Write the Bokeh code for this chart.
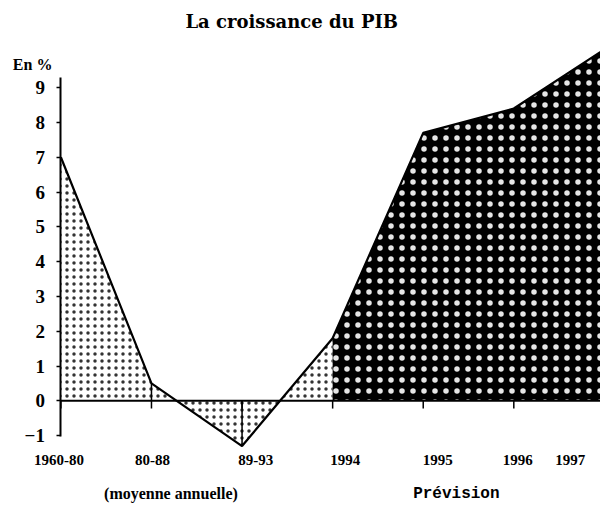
from bokeh.plotting import figure
from bokeh.models import ColumnDataSource, FixedTicker, Range1d
from bokeh.core.properties import value
from bokeh.embed import file_html
from bokeh.resources import INLINE

# ---- data ----
categories = ["1960-80", "80-88", "89-93", "1994", "1995", "1996", "1997"]
growth = [7.0, 0.5, -1.3, 1.8, 7.7, 8.4, 10.1]
y_ticks = [-1, 0, 1, 2, 3, 4, 5, 6, 7, 8, 9]
title_text = "La croissance du PIB"
unit_text = "En %"
note_left = "(moyenne annuelle)"
note_right = "Prévision"

idx = list(range(len(categories)))
split = categories.index("1994")  # stippled part ends, dark part begins

# ---- layout: reference pixel geometry scaled to the figure ----
W, H = 600, 505
SX, SY = W / 616.0, H / 521.0
AXIS_X = 62 * SX          # x of first category (y axis)
ZERO_Y = 413 * SY         # y of value 0
PX_X = 93.0 * SX          # px per category
PX_Y = 35.9 * SY          # px per percent

x_start = -AXIS_X / PX_X
x_end = (W - AXIS_X) / PX_X
y_end = ZERO_Y / PX_Y
y_start = -(H - ZERO_Y) / PX_Y


def xd(ref_px):
    return (ref_px * SX - AXIS_X) / PX_X


def yd(ref_py):
    return (ZERO_Y - ref_py * SY) / PX_Y


p = figure(width=W, height=H, x_range=Range1d(x_start, x_end), y_range=Range1d(y_start, y_end),
           x_axis_location=None, y_axis_location="left",
           toolbar_location=None, output_backend="svg",
           min_border=0, min_border_left=0, min_border_right=0, min_border_top=0,
           min_border_bottom=0, outline_line_color=None,
           background_fill_color="white", border_fill_color="white")
p.grid.visible = False

# stippled area (averages and 1994)
p.varea(x=idx[:split + 1], y1=[0] * (split + 1), y2=growth[:split + 1],
        fill_color="white", hatch_pattern=".", hatch_color="black",
        hatch_scale=7, hatch_weight=1.3, hatch_alpha=0.8)
# dark area (forecast)
n2 = len(idx) - split
p.varea(x=idx[split:], y1=[0] * n2, y2=growth[split:],
        fill_color="black", hatch_pattern=".", hatch_color="white",
        hatch_scale=11, hatch_weight=1.1, hatch_alpha=0.9)

# zero line, drop lines in the stippled part, small ticks under the zero line
p.line(x=[idx[0], idx[-1]], y=[0, 0], line_color="black", line_width=2)
p.segment(x0=idx[1:split], y0=[0] * (split - 1), x1=idx[1:split], y1=growth[1:split],
          line_color="black", line_width=1.5)
tick_len = 8 * SY / PX_Y
p.segment(x0=idx, y0=[0] * len(idx), x1=idx, y1=[-tick_len] * len(idx),
          line_color="black", line_width=1.5)
p.line(idx, growth, line_color="black", line_width=2.2)

# y axis drawn at the first category
ya = p.yaxis[0]
ya.fixed_location = 0
ya.ticker = FixedTicker(ticks=y_ticks)
ya.bounds = (-1.03, 9.28)
ya.axis_line_width = 2
ya.axis_line_color = "black"
ya.major_tick_in = 0
ya.major_tick_out = 4
ya.major_tick_line_width = 1.5
ya.minor_tick_line_color = None
ya.major_label_standoff = 12
ya.major_label_text_font = "Liberation Serif"
ya.major_label_text_font_size = "19px"
ya.major_label_text_font_style = "bold"
ya.major_label_text_color = "black"

# category labels under the chart
label_dx = [-2, 1, 14, 13, 15, 4, -35]
src = ColumnDataSource(dict(x=idx, y=[yd(474)] * len(idx), text=categories,
                            dx=[d * SX for d in label_dx]))
p.text(x="x", y="y", text="text", x_offset="dx", source=src,
       text_align="center", text_baseline="middle",
       text_font=value("Liberation Serif"), text_font_size=value("15px"),
       text_font_style="bold", text_color="black")

# title, unit and notes
p.text(x=[xd(299)], y=[yd(22)], text=[title_text],
       text_align="center", text_baseline="middle", text_font=value("DejaVu Serif"),
       text_font_size=value("18px"), text_font_style="bold", text_color="black")
p.text(x=[xd(33), xd(175)], y=[yd(66), yd(509)], text=[unit_text, note_left],
       text_align="center", text_baseline="middle", text_font=value("Liberation Serif"),
       text_font_size=value("16px"), text_font_style="bold", text_color="black")
p.text(x=[xd(468)], y=[yd(509)], text=[note_right],
       text_align="center", text_baseline="middle", text_font=value("Liberation Mono"),
       text_font_size=value("16px"), text_font_style="bold", text_color="black")

open("out.html", "w").write(file_html(p, INLINE))
